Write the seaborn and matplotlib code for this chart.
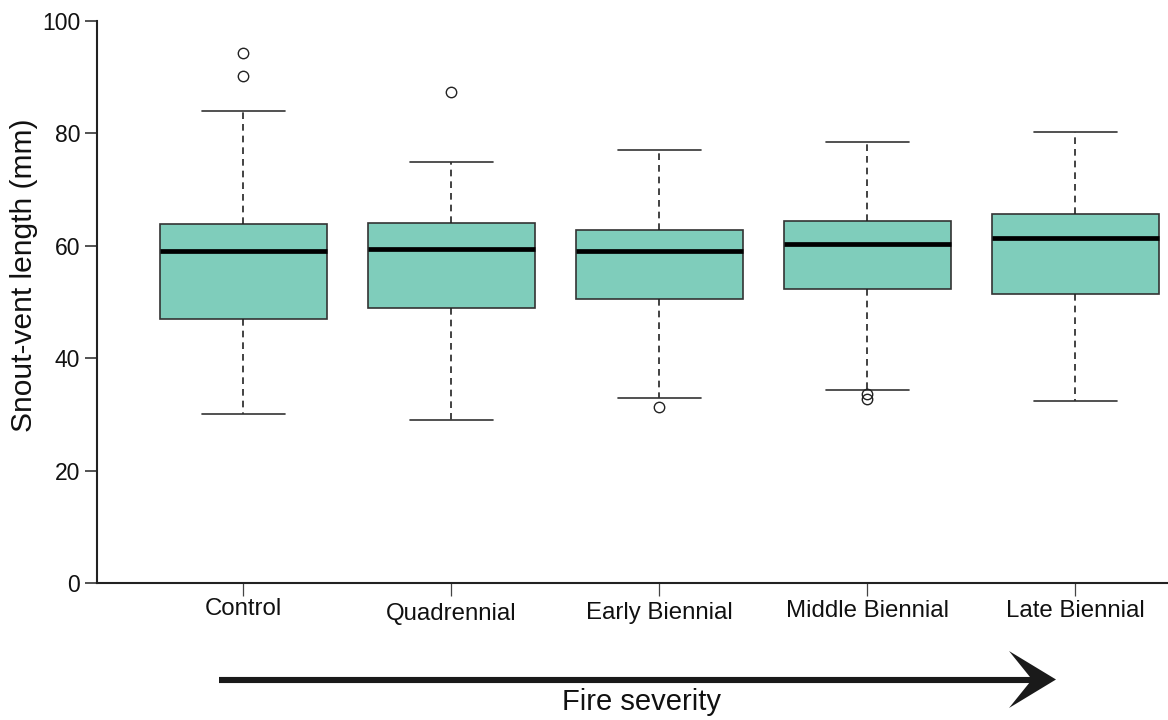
import numpy as np
import pandas as pd
import matplotlib
matplotlib.use("Agg")
import matplotlib.pyplot as plt
import seaborn as sns
from matplotlib.patches import Polygon
from matplotlib.lines import Line2D
from matplotlib.transforms import ScaledTranslation

# ---------------- data ----------------
categories = ["Control", "Quadrennial", "Early Biennial", "Middle Biennial", "Late Biennial"]
whisker_low = [30.0, 29.0, 33.0, 34.4, 32.4]
q1 = [46.9, 49.0, 50.5, 52.3, 51.4]
median = [59.0, 59.4, 59.0, 60.4, 61.3]
q3 = [63.9, 64.0, 62.9, 64.4, 65.7]
whisker_high = [84.0, 74.9, 77.0, 78.4, 80.2]
outliers = [[90.2, 94.3], [87.3], [31.3], [33.7, 32.7], []]
yticks = [0, 20, 40, 60, 80, 100]
y_label = "Snout-vent length (mm)"
x_note = "Fire severity"

# Minimal sample per group (13 values: quartiles fall exactly on indices 3, 6, 9)
# whose box-plot statistics reproduce the summary values.
rows = []
for cat, lo, a, m, b, hi, out in zip(categories, whisker_low, q1, median, q3, whisker_high, outliers):
    low_out = [v for v in out if v < a]
    high_out = [v for v in out if v > b]
    low = low_out + [lo] * (3 - len(low_out))
    high = [hi] * (3 - len(high_out)) + high_out
    sample = low + [a, m, m, m, m, m, b] + high
    rows += [(cat, v) for v in sample]
df = pd.DataFrame(rows, columns=["group", "value"])

# ---------------- figure ----------------
sns.set_theme(style="ticks")
plt.rcParams["font.family"] = ["Liberation Sans", "DejaVu Sans"]

W, H = 1168, 720
fig = plt.figure(figsize=(W / 100, H / 100), dpi=100)
ax = fig.add_axes([97 / W, 137 / H, 1 - 97 / W, 562 / H])

ink = "#222222"
sns.boxplot(
    data=df, x="group", y="value", order=categories,
    color="#7fcdbb", saturation=1, width=0.8,
    linecolor="#333333", linewidth=1.2,
    whiskerprops=dict(color=ink, linestyle=(0, (4, 3)), linewidth=1.2),
    capprops=dict(color="#333333", linewidth=1.2),
    medianprops=dict(color="black", linewidth=3.4),
    flierprops=dict(marker="o", markerfacecolor="none", markeredgecolor=ink,
                    markersize=7.5, markeredgewidth=1.0),
    ax=ax,
)

ax.set_ylim(0, 100)
ax.set_xlim(-0.704, 4.445)
ax.set_yticks(yticks)
ax.set_xlabel("")
ax.set_ylabel("")
sns.despine(ax=ax)
for s in ["left", "bottom"]:
    ax.spines[s].set_linewidth(1.5)
    ax.spines[s].set_color(ink)

ax.tick_params(axis="y", length=8.6, width=1.3, color="#444444", pad=3.5,
               labelsize=16.5, labelcolor="#111111")
ax.tick_params(axis="x", length=9, width=0.9, color="#444444", pad=2,
               labelsize=17.3, labelcolor="#111111")

# slight vertical stagger of the category labels as in the reference
drops_px = [0, 5, 4, 2, 2]
for lab, d in zip(ax.get_xticklabels(), drops_px):
    lab.set_transform(lab.get_transform() + ScaledTranslation(0, -d / 100, fig.dpi_scale_trans))

fig.text(24 / W, 1 - 275 / H, y_label, rotation=90, ha="center", va="center",
         fontsize=21.5, color="#111111")

# Fire severity arrow
y_arr = 1 - 679.5 / H
fig.add_artist(Line2D([219 / W, 1036 / W], [y_arr, y_arr], transform=fig.transFigure,
                      linewidth=4.4, color="#1a1a1a", solid_capstyle="butt"))
head = [(1056, 679.5), (1009, 651), (1032, 679.5), (1009, 708)]
fig.add_artist(Polygon([(x / W, 1 - y / H) for x, y in head], closed=True,
                       transform=fig.transFigure, facecolor="#1a1a1a", edgecolor="none"))
fig.text(642 / W, 1 - 710 / H, x_note, ha="center", va="baseline", fontsize=21, color="#111111")

fig.savefig("out.png", dpi=100)
